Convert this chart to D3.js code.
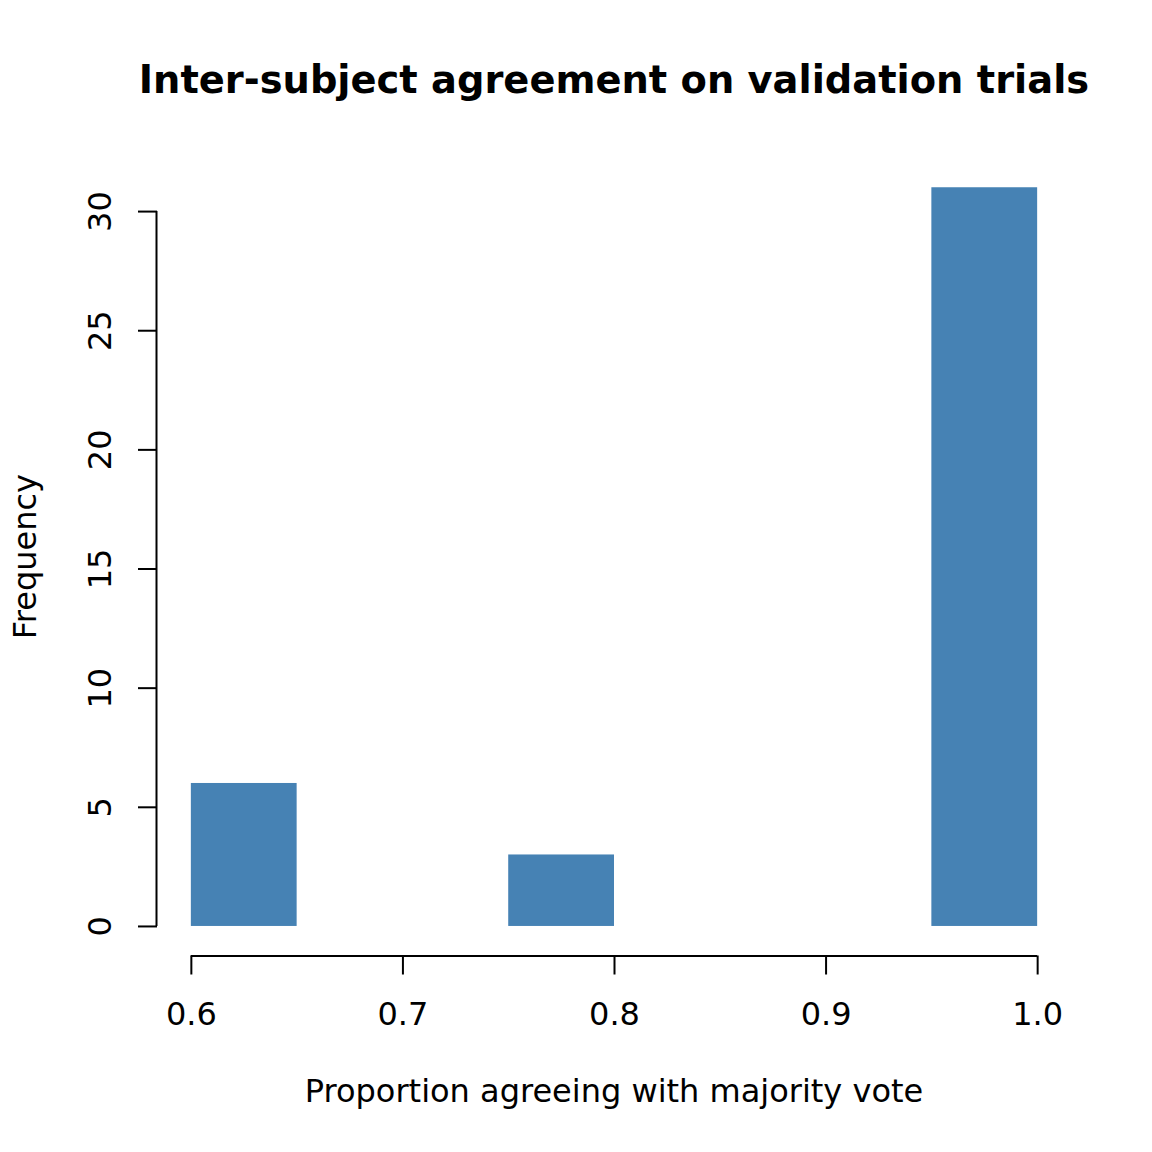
<!DOCTYPE html>
<html>
<head>
<meta charset="utf-8">
<script src="https://cdn.jsdelivr.net/npm/d3@7"></script>
<style>
  html, body { margin: 0; padding: 0; background: #fff; }
  text { font-family: "DejaVu Sans", sans-serif; fill: #000; }
</style>
</head>
<body>
<div id="chart"></div>
<script>
// histogram bins (lower edge, upper edge) and counts
const binStarts = [0.60, 0.65, 0.70, 0.75, 0.80, 0.85, 0.90, 0.95];
const binEnds   = [0.65, 0.70, 0.75, 0.80, 0.85, 0.90, 0.95, 1.00];
const counts    = [6, 0, 0, 3, 0, 0, 0, 31];
const xTicks = [0.6, 0.7, 0.8, 0.9, 1.0];
const xTickLabels = ['0.6', '0.7', '0.8', '0.9', '1.0'];
const yTicks = [0, 5, 10, 15, 20, 25, 30];

const W = 1152, H = 1152;
const plot = { left: 157, right: 1071, top: 157.7, bottom: 955.5 };
const baseFont = 32;

const svg = d3.select('#chart').append('svg')
    .attr('width', W).attr('height', H);

// R style: 4% padding on each side of the data range
const xMin = 0.6, xMax = 1.0, yMax = d3.max(counts);
const xPad = (xMax - xMin) * 0.04, yPad = yMax * 0.04;
const x = d3.scaleLinear().domain([xMin - xPad, xMax + xPad]).range([plot.left, plot.right]);
const y = d3.scaleLinear().domain([-yPad, yMax + yPad]).range([plot.bottom, plot.top]);

const bins = binStarts.map(function (s, i) {
    return { x0: s, x1: binEnds[i], n: counts[i] };
}).filter(function (d) { return d.n > 0; });

svg.append('g').selectAll('rect')
    .data(bins)
    .enter().append('rect')
    .attr('x', function (d) { return x(d.x0); })
    .attr('width', function (d) { return x(d.x1) - x(d.x0); })
    .attr('y', function (d) { return y(d.n); })
    .attr('height', function (d) { return y(0) - y(d.n); })
    .attr('fill', '#4682B4');

// x axis
const xAxis = svg.append('g')
    .attr('transform', 'translate(0,' + plot.bottom + ')')
    .call(d3.axisBottom(x).tickValues(xTicks)
        .tickFormat(function (d, i) { return xTickLabels[i]; })
        .tickSize(19).tickPadding(12).tickSizeOuter(0));
xAxis.select('.domain').attr('d', 'M' + x(xMin) + ',0.5H' + x(xMax))
    .attr('stroke', '#000').attr('stroke-width', 2);
xAxis.selectAll('.tick line').attr('stroke', '#000').attr('stroke-width', 2);
xAxis.selectAll('.tick text')
    .attr('font-size', baseFont).attr('font-family', 'DejaVu Sans')
    .attr('dy', null).attr('y', 69);

// y axis
const yAxis = svg.append('g')
    .attr('transform', 'translate(' + plot.left + ',0)')
    .call(d3.axisLeft(y).tickValues(yTicks).tickSize(19).tickSizeOuter(0));
yAxis.select('.domain').attr('d', 'M-0.5,' + y(0) + 'V' + y(30))
    .attr('stroke', '#000').attr('stroke-width', 2);
yAxis.selectAll('.tick line').attr('stroke', '#000').attr('stroke-width', 2);
yAxis.selectAll('.tick text').remove();
yAxis.selectAll('.tick').append('text')
    .attr('transform', 'translate(-46,0) rotate(-90)')
    .attr('text-anchor', 'middle')
    .attr('font-size', baseFont)
    .attr('font-family', 'DejaVu Sans')
    .attr('fill', '#000')
    .text(function (d) { return d; });

// title and axis labels
svg.append('text')
    .attr('x', (plot.left + plot.right) / 2).attr('y', 93)
    .attr('text-anchor', 'middle')
    .attr('font-size', baseFont * 1.2).attr('font-weight', 'bold')
    .text('Inter-subject agreement on validation trials');

svg.append('text')
    .attr('x', (plot.left + plot.right) / 2).attr('y', 1102)
    .attr('text-anchor', 'middle')
    .attr('font-size', baseFont)
    .text('Proportion agreeing with majority vote');

svg.append('text')
    .attr('transform', 'translate(36,' + (plot.top + plot.bottom) / 2 + ') rotate(-90)')
    .attr('text-anchor', 'middle')
    .attr('font-size', baseFont)
    .text('Frequency');
</script>
</body>
</html>
